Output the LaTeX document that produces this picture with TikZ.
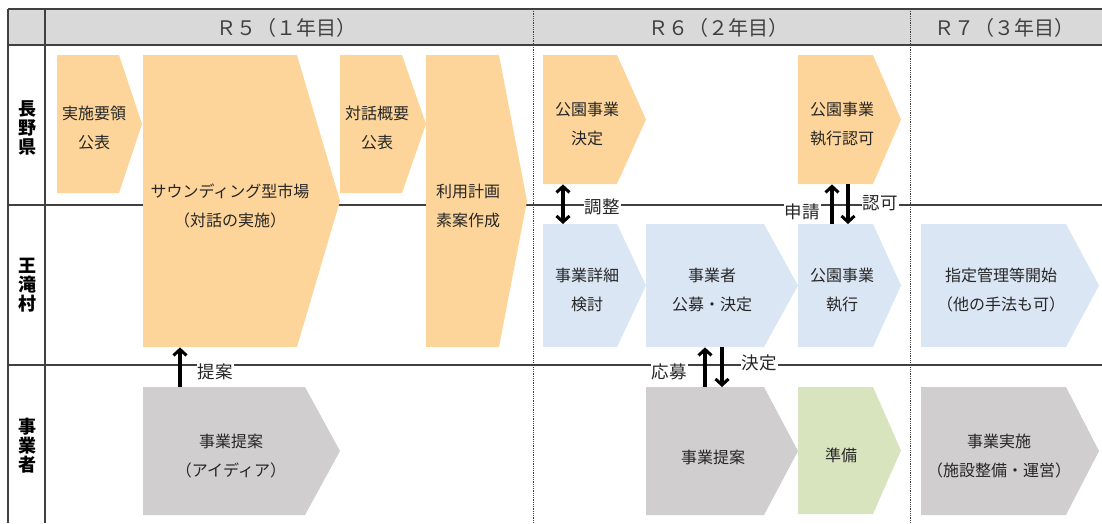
\documentclass[tikz,border=0pt]{standalone}
\usepackage{fontspec}
\setmainfont{Noto Sans CJK JP}
\usetikzlibrary{arrows.meta}
\definecolor{orng}{HTML}{FDD59A}
\definecolor{blu}{HTML}{DAE6F4}
\definecolor{gry}{HTML}{D0CECE}
\definecolor{grn}{HTML}{D8E4BE}
\definecolor{hdrfill}{HTML}{D9D9D9}
\definecolor{linec}{HTML}{404040}
\definecolor{txtc}{HTML}{262626}
\definecolor{hdtxt}{HTML}{404040}
\newcommand\pent[7]{%
  \fill[#7] (#2,#3) -- (#4,#3) -- (#5,{(#3+#6)/2}) -- (#4,#6) -- (#2,#6) -- cycle;
  \node[inner sep=0pt,minimum width={#5-#2},minimum height={#6-#3},anchor=north west] (#1) at (#2,#3) {};
}
\begin{document}
\begin{tikzpicture}[x=1pt,y=-1pt,
  gridline/.style={draw=linec,line width=1.1pt},
  dotline/.style={draw=linec,line width=0.8pt,dash pattern=on 0.8pt off 1pt},
  hd/.style={font=\fontsize{20}{22}\selectfont,text=hdtxt,inner sep=0pt},
  rowlbl/.style={font=\fontsize{18}{19}\selectfont\bfseries,text=black,align=center,inner sep=0pt},
  txt/.style={font=\fontsize{16}{29}\selectfont,text=txtc,align=center,inner sep=0pt},
  lbl/.style={font=\fontsize{17.5}{19}\selectfont,text=txtc,fill=white,inner xsep=1pt,inner ysep=0pt},
  arr/.style={line width=3.4pt,-{Straight Barb[length=6pt,width=13pt,line width=3pt]}},
  arrb/.style={line width=3.4pt,{Straight Barb[length=6pt,width=13pt,line width=3pt]}-{Straight Barb[length=6pt,width=13pt,line width=3pt]}}
]
\useasboundingbox (0,0) rectangle (1102,523);
% header
\fill[hdrfill] (8,9) rectangle (1102,45);
\draw[gridline] (8,9) -- (1102,9);
\draw[gridline] (8,45) -- (1102,45);
\draw[gridline] (8,205) -- (1102,205);
\draw[gridline] (8,365) -- (1102,365);
\draw[gridline] (8,9) -- (8,523);
\draw[gridline] (45,9) -- (45,523);
\draw[dotline] (533,9) -- (533,523);
\draw[dotline] (910,9) -- (910,523);
\node[hd] (h1) at (286,28) {Ｒ５（１年目）};
\node[hd] (h2) at (718,28) {Ｒ６（２年目）};
\node[hd] (h3) at (1004,28) {Ｒ７（３年目）};
% row labels
\node[rowlbl] (r1) at (27,128) {長\\野\\県};
\node[rowlbl] (r2) at (27,285) {王\\滝\\村};
\node[rowlbl] (r3) at (27,446) {事\\業\\者};
% shapes
\pent{s1}{57}{55}{119}{142}{193}{orng}
\pent{s2}{143}{55}{297}{340}{347}{orng}
\pent{s3}{340}{55}{402}{426}{193}{orng}
\pent{s4}{426}{55}{499}{527}{347}{orng}
\pent{s5}{543}{55}{617}{646}{184}{orng}
\pent{s6}{798}{55}{873}{901}{184}{orng}
\pent{s7}{543}{224}{617}{646}{347}{blu}
\pent{s8}{646}{224}{764}{798}{347}{blu}
\pent{s9}{798}{224}{873}{901}{347}{blu}
\pent{s10}{921}{224}{1066}{1099}{347}{blu}
\pent{s11}{143}{387}{305}{340}{515}{gry}
\pent{s12}{646}{387}{764}{798}{515}{gry}
\pent{s13}{798}{387}{873}{901}{514}{grn}
\pent{s14}{921}{387}{1066}{1099}{515}{gry}
% texts
\node[txt] (t1) at (94,128) {実施要領\\公表};
\node[txt] (t2) at (230,206) {サウンディング型市場\\（対話の実施）};
\node[txt] (t3) at (377,128) {対話概要\\公表};
\node[txt] (t4) at (468,206) {利用計画\\素案作成};
\node[txt] (t5) at (587,124) {公園事業\\決定};
\node[txt] (t6) at (842,124) {公園事業\\執行認可};
\node[txt] (t7) at (587,290) {事業詳細\\検討};
\node[txt] (t8) at (712,290) {事業者\\公募・決定};
\node[txt] (t9) at (842,290) {公園事業\\執行};
\node[txt] (t10) at (1001,290) {指定管理等開始\\（他の手法も可）};
\node[txt] (t11) at (231,456) {事業提案\\（アイディア）};
\node[txt] (t12) at (713,457) {事業提案};
\node[txt] (t13) at (841,455) {準備};
\node[txt] (t14) at (999,456) {事業実施\\（施設整備・運営）};
% arrow labels
\node[lbl] (l1) at (215,372) {提案};
\node[lbl] (l2) at (602,207) {調整};
\node[lbl] (l3) at (802,212) {申請};
\node[lbl] (l4) at (880,203) {認可};
\node[lbl] (l5) at (669,372) {応募};
\node[lbl] (l6) at (759,363) {決定};
% arrows
\draw[arr] (s11.north -| 180,0) -- (s2.south -| 180,0);
\draw[arrb] (s5.south -| 563,0) -- (s7.north -| 563,0);
\draw[arr] (s9.north -| 832,0) -- (s6.south -| 832,0);
\draw[arr] (s6.south -| 848,0) -- (s9.north -| 848,0);
\draw[arr] (s12.north -| 705,0) -- (s8.south -| 705,0);
\draw[arr] (s8.south -| 722,0) -- (s12.north -| 722,0);
\end{tikzpicture}
\end{document}
